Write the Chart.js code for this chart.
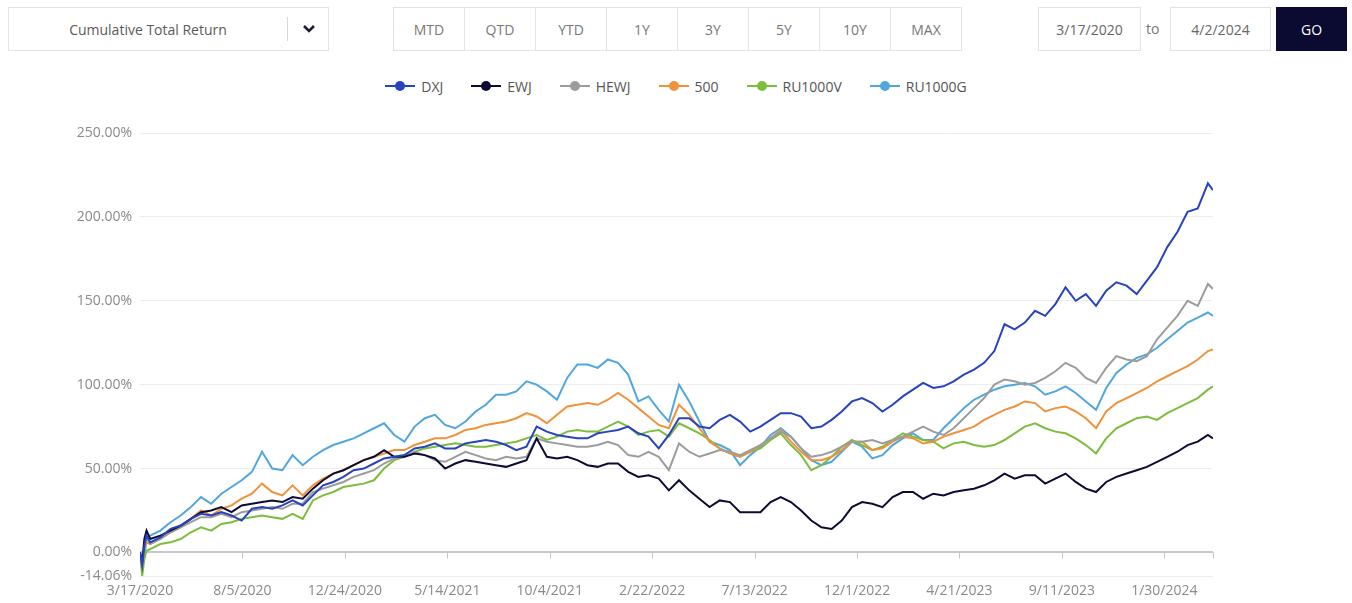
<!DOCTYPE html>
<html>
<head>
<meta charset="utf-8">
<script src="https://cdn.jsdelivr.net/npm/chart.js@4.4.1/dist/chart.umd.min.js"></script>
<style>
  body { margin: 0; width: 1352px; height: 603px; background: #fff; font-family: "Open Sans", sans-serif; color: #555; position: relative; overflow: hidden; }
  .box { position: absolute; box-sizing: border-box; border: 1px solid #e3e3e3; height: 44px; top: 7px; display: flex; align-items: center; justify-content: center; font-size: 14px; color: #5a5a5a; }
  #dropdown { left: 8px; width: 321px; justify-content: flex-start; }
  #dropdown .lbl { width: 278px; text-align: center; }
  #dropdown .sep { width: 1px; height: 24px; background: #d8d8d8; }
  #dropdown svg { margin-left: 14px; }
  #periods { position: absolute; left: 393px; top: 7px; display: flex; }
  #periods .box { position: static; width: 72px; margin-right: -1px; color: #777; }
  #to { position: absolute; left: 1146px; top: 19px; font-size: 14px; color: #777; }
  #go { left: 1276px; width: 71px; background: #0b0a30; border-color: #0b0a30; color: #fff; }
  #legend { position: absolute; left: 0; width: 1352px; top: 76px; display: flex; justify-content: center; gap: 28px; font-size: 14px; color: #555; }
  .item { display: flex; align-items: center; gap: 6px; }
  .mark { position: relative; width: 30px; height: 20px; }
  .mark .ln { position: absolute; left: 0; right: 0; top: 9px; height: 2px; }
  .mark .dt { position: absolute; left: 10px; top: 5px; width: 10px; height: 10px; border-radius: 50%; }
  #wrap { position: absolute; left: 0; top: 100px; width: 1352px; height: 503px; }
</style>
</head>
<body>
<div class="box" id="dropdown"><span class="lbl">Cumulative Total Return</span><span class="sep"></span>
  <svg width="14" height="10" viewBox="0 0 14 10"><polyline points="2,2 7,7 12,2" fill="none" stroke="#1a1a3a" stroke-width="2.6"/></svg></div>
<div id="periods"></div>
<div class="box" style="left:1038px;width:103px;color:#666">3/17/2020</div>
<span id="to">to</span>
<div class="box" style="left:1170px;width:101px;color:#666">4/2/2024</div>
<div class="box" id="go">GO</div>
<div id="legend"></div>
<div id="wrap"><canvas id="chart"></canvas></div>
<script>
const periodButtons = ['MTD', 'QTD', 'YTD', '1Y', '3Y', '5Y', '10Y', 'MAX'];

const seriesNames = ['DXJ', 'EWJ', 'HEWJ', '500', 'RU1000V', 'RU1000G'];
const seriesColors = ['#2743bd', '#0c0b33', '#9c9c9c', '#f0913b', '#7cbd3d', '#4fa7de'];

// x = days after 3/17/2020
const tickDays = [0, 141, 282, 423, 564, 705, 846, 987, 1128, 1269, 1410];
const tickLabels = ['3/17/2020', '8/5/2020', '12/24/2020', '5/14/2021', '10/4/2021', '2/22/2022',
  '7/13/2022', '12/1/2022', '4/21/2023', '9/11/2023', '1/30/2024'];
const lastDay = 1477;

const yTicks = [-14.06, 0, 50, 100, 150, 200, 250];

const sampleDays = [0, 3, 6, 9];
for (let d = 14; d <= 1470; d += 14) sampleDays.push(d);
sampleDays.push(lastDay);

const dxj = [0, -8, 4, 10,
  6, 9, 14, 16, 20, 23, 22, 24, 22, 19,
  26, 27, 26, 28, 31, 28, 34, 40, 42, 45,
  49, 50, 53, 56, 57, 58, 62, 63, 65, 62,
  62, 65, 66, 67, 66, 64, 61, 63, 75, 72,
  70, 69, 68, 68, 71, 72, 73, 75, 71, 69,
  62, 70, 80, 80, 75, 74, 79, 82, 78, 72,
  75, 79, 83, 83, 81, 74, 75, 79, 84, 90,
  92, 89, 84, 88, 93, 97, 101, 98, 99, 102,
  106, 109, 113, 120, 136, 133, 137, 144, 141, 148,
  158, 150, 154, 147, 156, 161, 159, 154, 162, 170,
  182, 191, 203, 205, 220, 216];
const ewj = [0, -6, 8, 13,
  8, 10, 13, 16, 20, 24, 25, 27, 24, 28,
  29, 30, 31, 30, 33, 32, 38, 43, 47, 49,
  52, 55, 57, 61, 57, 57, 59, 58, 56, 50,
  53, 55, 54, 53, 52, 51, 53, 55, 68, 57,
  56, 57, 55, 52, 51, 53, 53, 48, 45, 46,
  44, 37, 43, 37, 32, 27, 31, 30, 24, 24,
  24, 30, 33, 30, 25, 19, 15, 14, 19, 27,
  30, 29, 27, 33, 36, 36, 32, 35, 34, 36,
  37, 38, 40, 43, 47, 44, 46, 46, 41, 44,
  47, 42, 38, 36, 42, 45, 47, 49, 51, 54,
  57, 60, 64, 66, 70, 68];
const hewj = [0, -7, 3, 9,
  5, 8, 12, 15, 18, 21, 21, 23, 21, 24,
  25, 26, 27, 26, 29, 29, 36, 38, 40, 42,
  45, 47, 49, 53, 56, 57, 60, 58, 55, 54,
  57, 60, 58, 56, 55, 57, 56, 57, 68, 66,
  65, 64, 63, 63, 64, 66, 64, 58, 57, 60,
  57, 49, 65, 60, 57, 59, 61, 60, 58, 61,
  64, 68, 72, 69, 62, 57, 58, 60, 63, 66,
  66, 67, 65, 67, 69, 72, 75, 72, 70, 74,
  80, 86, 92, 100, 103, 102, 100, 101, 104, 108,
  113, 110, 104, 101, 110, 117, 115, 114, 117, 127,
  134, 141, 150, 147, 160, 157];
const sp500 = [0, -8, 2, 6,
  5, 8, 12, 15, 20, 25, 22, 26, 28, 32,
  35, 41, 36, 34, 40, 34, 40, 44, 47, 49,
  52, 55, 57, 59, 61, 61, 64, 66, 68, 68,
  70, 73, 74, 76, 77, 78, 80, 83, 81, 77,
  82, 87, 88, 89, 88, 91, 95, 91, 86, 81,
  76, 74, 88, 82, 74, 66, 62, 59, 57, 60,
  64, 68, 73, 66, 60, 55, 55, 57, 61, 66,
  66, 61, 62, 66, 69, 68, 65, 66, 69, 71,
  73, 75, 79, 82, 85, 87, 90, 89, 84, 86,
  87, 84, 80, 74, 84, 89, 92, 95, 98, 102,
  105, 108, 111, 115, 120, 121];
const ru1000v = [0, -14.06, -4, 1,
  2, 5, 6, 8, 12, 15, 13, 17, 18, 20,
  21, 22, 21, 20, 23, 20, 31, 34, 36, 39,
  40, 41, 43, 50, 55, 57, 60, 62, 63, 64,
  65, 64, 63, 63, 64, 65, 66, 68, 70, 67,
  69, 72, 73, 72, 72, 75, 78, 75, 70, 72,
  73, 69, 77, 74, 71, 67, 62, 59, 57, 60,
  62, 67, 71, 64, 58, 49, 52, 57, 63, 67,
  64, 61, 63, 67, 71, 69, 67, 66, 62, 65,
  66, 64, 63, 64, 67, 71, 75, 77, 74, 72,
  71, 68, 64, 59, 68, 74, 77, 80, 81, 79,
  83, 86, 89, 92, 97, 99];
const ru1000g = [0, -9, -3, 8,
  10, 13, 18, 22, 27, 33, 29, 35, 39, 43,
  48, 60, 50, 49, 58, 52, 57, 61, 64, 66,
  68, 71, 74, 77, 70, 66, 75, 80, 82, 76,
  74, 78, 84, 88, 94, 94, 96, 102, 100, 96,
  91, 104, 112, 112, 110, 115, 113, 106, 90, 93,
  85, 78, 100, 90, 78, 66, 64, 61, 52, 58,
  63, 70, 74, 69, 62, 55, 52, 54, 60, 66,
  63, 56, 58, 64, 68, 71, 67, 67, 74, 80,
  86, 91, 94, 97, 99, 100, 101, 99, 94, 96,
  99, 95, 90, 85, 98, 107, 112, 116, 118, 122,
  127, 132, 137, 140, 143, 141];

const seriesValues = [dxj, ewj, hewj, sp500, ru1000v, ru1000g];

// header controls
const periods = document.getElementById('periods');
periodButtons.forEach(p => {
  const b = document.createElement('div');
  b.className = 'box';
  b.textContent = p;
  periods.appendChild(b);
});

// legend
const legend = document.getElementById('legend');
seriesNames.forEach((name, i) => {
  const it = document.createElement('div');
  it.className = 'item';
  it.innerHTML = '<span class="mark"><span class="ln" style="background:' + seriesColors[i] +
    '"></span><span class="dt" style="background:' + seriesColors[i] + '"></span></span><span>' + name + '</span>';
  legend.appendChild(it);
});

const datasets = seriesNames.map((name, i) => ({
  label: name,
  data: sampleDays.map((d, k) => ({ x: d, y: seriesValues[i][k] })),
  borderColor: seriesColors[i],
  backgroundColor: seriesColors[i],
  borderWidth: 2,
  pointRadius: 0,
  tension: 0
}));

// little tick marks hanging under the 0% line
const zeroTicks = {
  id: 'zeroTicks',
  beforeDatasetsDraw(chart) {
    const { ctx, scales: { x, y } } = chart;
    const y0 = y.getPixelForValue(0);
    ctx.save();
    ctx.strokeStyle = '#c4c4c4';
    ctx.lineWidth = 1;
    tickDays.concat([lastDay]).forEach(d => {
      const px = Math.round(x.getPixelForValue(d)) + 0.5;
      ctx.beginPath();
      ctx.moveTo(px, y0);
      ctx.lineTo(px, y0 + 6);
      ctx.stroke();
    });
    ctx.restore();
  }
};

new Chart(document.getElementById('chart'), {
  type: 'line',
  data: { datasets },
  plugins: [zeroTicks],
  options: {
    responsive: true,
    maintainAspectRatio: false,
    animation: false,
    layout: { padding: { top: 33, right: 139, left: 0, bottom: 0 } },
    plugins: { legend: { display: false }, tooltip: { enabled: false } },
    scales: {
      x: {
        type: 'linear',
        min: 0,
        max: lastDay,
        afterBuildTicks: s => { s.ticks = tickDays.map(v => ({ value: v })); },
        afterFit: s => { s.height = 27; },
        grid: { display: false, drawTicks: false },
        border: { display: false },
        ticks: {
          autoSkip: false,
          maxRotation: 0,
          padding: 7,
          color: '#8a8a8a',
          font: { family: 'Open Sans', size: 14 },
          callback: v => tickLabels[tickDays.indexOf(v)]
        }
      },
      y: {
        min: -14.06,
        max: 250,
        afterBuildTicks: s => { s.ticks = yTicks.map(v => ({ value: v })); },
        afterFit: s => { s.width = 140; },
        grid: {
          drawTicks: false,
          color: c => (c.tick && c.tick.value === 0 ? '#c8c8c8' : '#ededed'),
          lineWidth: c => (c.tick && c.tick.value === 0 ? 2 : 1)
        },
        border: { display: false },
        ticks: {
          padding: 8,
          color: '#8a8a8a',
          font: { family: 'Open Sans', size: 14 },
          callback: v => v.toFixed(2) + '%'
        }
      }
    }
  }
});
</script>
</body>
</html>
